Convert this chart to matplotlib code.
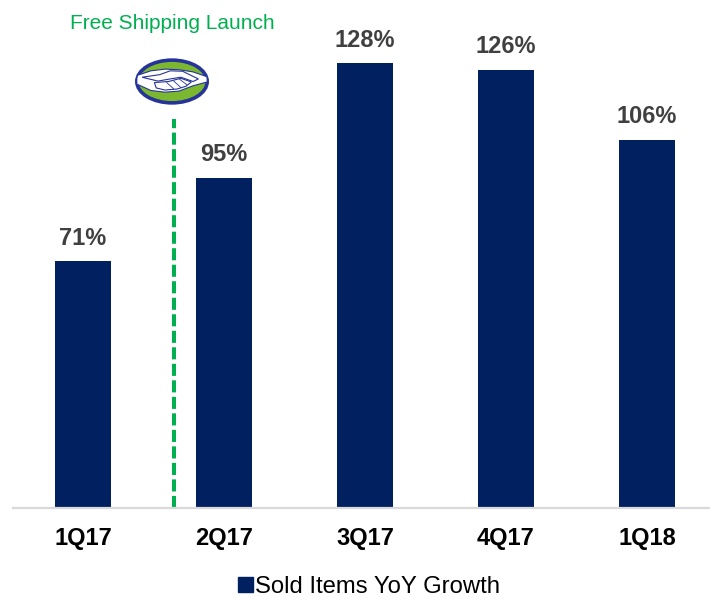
import matplotlib
matplotlib.use("Agg")
import matplotlib.pyplot as plt
from matplotlib.patches import Ellipse, Polygon, Patch

categories = ["1Q17", "2Q17", "3Q17", "4Q17", "1Q18"]
growth = [71, 95, 128, 126, 106]
value_labels = ["71%", "95%", "128%", "126%", "106%"]
series_name = "Sold Items YoY Growth"
annotation_text = "Free Shipping Launch"
launch_pos = 0.645  # between 1Q17 and 2Q17

NAVY = "#002060"
GREEN = "#00b050"
LABEL_GRAY = "#404040"

plt.rcParams['font.family'] = ['Liberation Sans', 'DejaVu Sans']

W, H = 710, 599
fig = plt.figure(figsize=(W / 100, H / 100), dpi=100)

ax_left = 13 / W
ax_bottom = (H - 508) / H
ax_top = (H - 21.5) / H
ax = fig.add_axes([ax_left, ax_bottom, 1 - ax_left, ax_top - ax_bottom])

x = list(range(len(categories)))
bars = ax.bar(x, growth, width=0.397, color=NAVY, zorder=2)

ax.set_xlim(-0.496, 4.447)
ax.set_ylim(0, 140)

for xi, v, lab in zip(x, growth, value_labels):
    ax.annotate(lab, xy=(xi, v), xytext=(0, 12), textcoords="offset points",
                ha="center", va="baseline", fontsize=17, fontweight="bold",
                color=LABEL_GRAY)

ax.set_xticks(x)
ax.set_xticklabels(categories, fontsize=17, fontweight="bold", color="black")
ax.tick_params(axis="x", length=0, pad=14)
ax.set_yticks([])
for s in ["top", "left", "right"]:
    ax.spines[s].set_visible(False)
ax.spines["bottom"].set_color("#d9d9d9")
ax.spines["bottom"].set_linewidth(1.6)

# dashed launch line
ax.plot([launch_pos, launch_pos], [0, (508 - 119) / 3.475], color=GREEN,
        lw=2.9, linestyle=(0, (3, 1.1)), solid_capstyle="butt", zorder=1,
        clip_on=False)

# annotation text
fig.text(172 / W, (H - 29) / H, annotation_text, ha="center", va="baseline",
         fontsize=15, color=GREEN)

# logo
BLUE = "#26349a"
lax = fig.add_axes([134 / W, (H - 105) / H, 76 / W, 47 / H])
lax.set_xlim(-1.08, 1.08)
lax.set_ylim(-1.1, 1.1)
lax.axis("off")
outer = Ellipse((0, 0), 2, 2, fc="#7cb82f", ec=BLUE, lw=2.6)
lax.add_patch(outer)
band = Polygon([(-1.0, 0.28), (-0.6, 0.5), (-0.2, 0.58), (0.2, 0.55),
                (0.6, 0.45), (1.0, 0.22), (1.0, -0.02), (0.6, -0.2),
                (0.2, -0.45), (-0.2, -0.5), (-0.6, -0.42), (-1.0, -0.12)],
               closed=True, fc="white", ec=BLUE, lw=0.8)
band.set_clip_path(outer)
lax.add_patch(band)
band.set_clip_path(outer)
# upper hand (reaching right)
hand1 = Polygon([(-0.85, 0.2), (-0.35, 0.32), (-0.05, 0.5), (0.3, 0.48),
                 (0.75, 0.12), (0.6, 0.0), (0.25, 0.2), (-0.05, 0.12),
                 (-0.4, 0.02)],
                closed=True, fc="white", ec=BLUE, lw=0.8)
lax.add_patch(hand1)
# lower hand fingers
hand2 = Polygon([(-0.5, -0.05), (-0.1, 0.0), (0.25, 0.15), (0.55, -0.02),
                 (0.4, -0.22), (0.15, -0.35), (-0.2, -0.4), (-0.45, -0.3)],
                closed=True, fc="white", ec=BLUE, lw=0.8)
lax.add_patch(hand2)
for xs, ys in [([-0.15, 0.05], [-0.05, -0.35]), ([0.05, 0.25], [0.02, -0.28]),
               ([0.22, 0.42], [0.1, -0.15])]:
    lax.plot(xs, ys, color=BLUE, lw=0.6)

# legend
handle = Patch(facecolor=NAVY, edgecolor=NAVY)
fig.legend([handle], [series_name], loc="center",
           bbox_to_anchor=(369 / W, (H - 587) / H), frameon=False,
           fontsize=17.2, handlelength=0.6, handleheight=0.6,
           handletextpad=0.08, borderpad=0, borderaxespad=0)

fig.savefig("out.png", dpi=100)
